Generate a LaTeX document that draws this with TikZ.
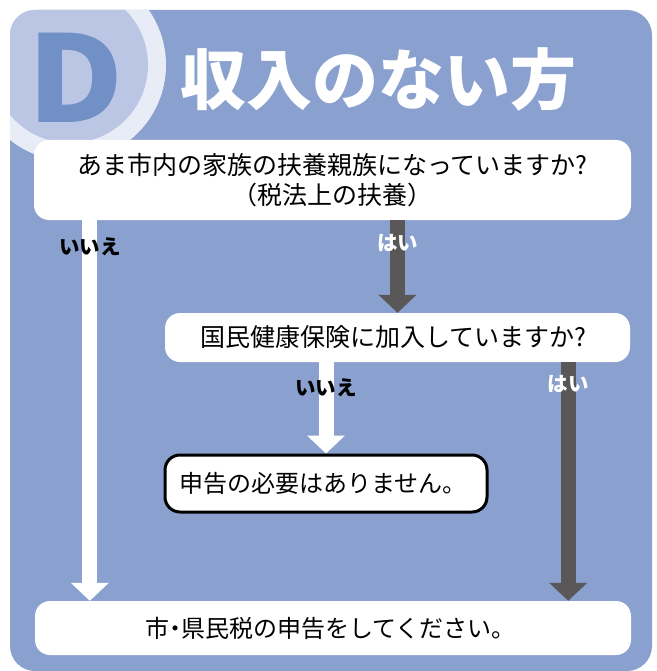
\documentclass[tikz,border=0pt]{standalone}
\usepackage{fontspec}
\setmainfont{Noto Sans CJK JP}
\usetikzlibrary{arrows.meta}

\definecolor{panelblue}{HTML}{8AA1CF}
\definecolor{discblue}{HTML}{BAC6E3}
\definecolor{ringblue}{HTML}{E8ECF7}
\definecolor{letterblue}{HTML}{7090C6}
\definecolor{arrowgrey}{HTML}{595757}

\begin{document}
\begin{tikzpicture}[x=1pt, y=-1pt,
    box/.style={rectangle, rounded corners=15pt, fill=white, align=center, inner sep=0pt},
    whitearrow/.style={line width=15pt, white, -{Triangle[width=37pt,length=18pt]}},
    darkarrow/.style={line width=15pt, arrowgrey, -{Triangle[width=37pt,length=18pt]}},
    nolabel/.style={text=black, font=\bfseries\fontsize{20.5}{20.5}\selectfont},
    yeslabel/.style={text=white, font=\bfseries\fontsize{20.5}{20.5}\selectfont}]
    \useasboundingbox (0,0) rectangle (656,671);
    \fill[white] (0,0) rectangle (656,671);

    % Panel
    \fill[panelblue, rounded corners=25pt] (10,10) rectangle (652,671);
    \begin{scope}
        \clip[rounded corners=25pt] (10,10) rectangle (652,671);
        \fill[ringblue] (70,65) circle (96pt);
        \fill[discblue] (70,65) circle (78pt);
    \end{scope}
    \node (badge) [text=letterblue, inner sep=0pt, font=\bfseries\fontsize{120}{120}\selectfont, xscale=1.1] at (76,78) {D};
    \node (title) [text=white, inner sep=0pt, font=\bfseries\fontsize{66}{66}\selectfont] at (378,80) {収入のない方};

    % Questions and answers
    \node (family) [box, minimum width=597pt, minimum height=80pt, font=\fontsize{25}{30}\selectfont] at (332.5,180) {
        あま市内の家族の扶養親族になっていますか?\\
        （税法上の扶養）
    };

    \node (insured) [box, minimum width=465pt, minimum height=49pt, font=\fontsize{25}{30}\selectfont] at (397.5,337.5) {
        国民健康保険に加入していますか?
    };

    \node (none) [box, draw=black, line width=3pt, minimum width=322pt, minimum height=57pt, font=\fontsize{24}{30}\selectfont] at (326,483.5) {
        申告の必要はありません。
    };

    \node (declare) [box, minimum width=596pt, minimum height=54pt, font=\fontsize{24}{30}\selectfont] at (333,628) {
        市\kern-6pt・\kern-6pt 県民税の申告をしてください。
    };

    % Branches
    \coordinate (yesx) at ([xshift=-62pt]insured.south east);
    \draw[whitearrow] ([xshift=56pt]family.south west) -- ([xshift=56pt]family.south west |- declare.north)
        node[nolabel, pos=0.07] {いいえ};
    \draw[darkarrow] (family.south -| insured.north) -- (insured.north)
        node[yeslabel, pos=0.25] {はい};
    \draw[whitearrow] (insured.south -| none.north) -- (none.north)
        node[nolabel, pos=0.28] {いいえ};
    \draw[darkarrow] (yesx) -- (yesx |- declare.north)
        node[yeslabel, pos=0.09] {はい};
\end{tikzpicture}
\end{document}
